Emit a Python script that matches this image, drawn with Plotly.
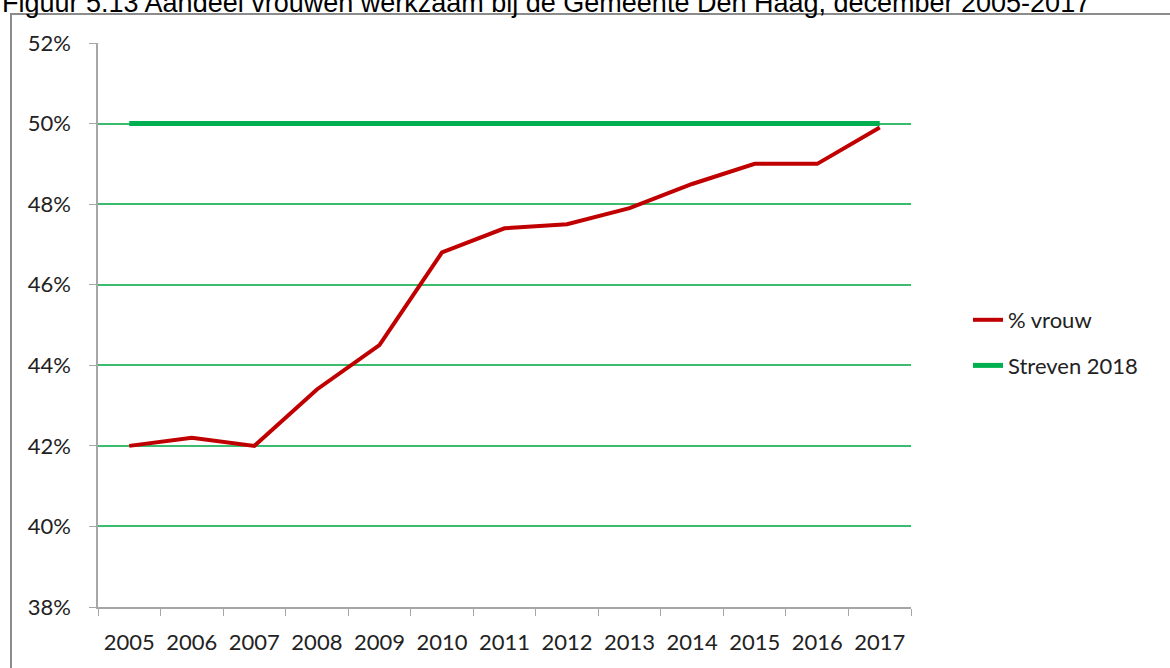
import plotly.graph_objects as go

years = ["2005", "2006", "2007", "2008", "2009", "2010", "2011", "2012", "2013", "2014", "2015", "2016", "2017"]
pct_vrouw = [42.0, 42.2, 42.0, 43.4, 44.5, 46.8, 47.4, 47.5, 47.9, 48.5, 49.0, 49.0, 49.9]
streven_2018 = [50.0] * len(years)
title_text = "Figuur 5.13 Aandeel vrouwen werkzaam bij de Gemeente Den Haag, december 2005-2017"

font_family = "Lato, 'Open Sans', sans-serif"

fig = go.Figure()
fig.add_trace(go.Scatter(x=years, y=pct_vrouw, mode="lines", name="% vrouw", legendgroup="a",
                         line=dict(color="#C00000", width=4)))
fig.add_trace(go.Scatter(x=years, y=streven_2018, mode="lines", name="Streven 2018", legendgroup="b",
                         line=dict(color="#00B050", width=5)))

W, H = 1170, 668
L, R, T, B = 98, 911, 43, 607
pw, ph = R - L, B - T

def px(x):
    return (x - L) / pw

def py(y):
    return (B - y) / ph

fig.update_layout(
    width=W, height=H,
    margin=dict(l=L, r=W - R, t=T, b=H - B, pad=0),
    paper_bgcolor="white", plot_bgcolor="white",
    font=dict(family=font_family, size=22, color="#222222"),
    showlegend=True,
    legend=dict(x=px(968), y=py(343), xanchor="left", yanchor="middle",
                font=dict(size=22, color="#222222"), bgcolor="rgba(0,0,0,0)",
                traceorder="grouped", tracegroupgap=14),
    xaxis=dict(type="category", range=[-0.5, 12.5], showline=True, linecolor="#A6A6A6",
               linewidth=1.5, ticks="outside", tickson="boundaries", ticklen=7,
               tickcolor="#A6A6A6", showgrid=False, tickfont=dict(size=22),
               ticklabelstandoff=15),
    yaxis=dict(range=[38, 52], dtick=2, tick0=38, ticksuffix="%", showline=True,
               linecolor="#A6A6A6", linewidth=1.5, ticks="outside", ticklen=7,
               tickcolor="#A6A6A6", showgrid=True, gridcolor="#3DBB6E", gridwidth=1.5,
               zeroline=False, tickfont=dict(size=22), ticklabelstandoff=14),
    shapes=[dict(type="rect", xref="paper", yref="paper",
                 x0=px(11), x1=px(1200), y0=py(700), y1=py(14),
                 line=dict(color="#8C8C8C", width=2), fillcolor="rgba(0,0,0,0)", layer="below")],
    annotations=[dict(text=title_text, xref="paper", yref="paper", x=px(0), y=py(20),
                      xanchor="left", yanchor="bottom", showarrow=False,
                      font=dict(family="'Liberation Sans', Arial, sans-serif", size=27, color="#000000"))],
)

fig.write_html("out.html", config={"displayModeBar": False},
               post_script="document.body.style.margin='0';document.body.style.overflow='hidden';")
